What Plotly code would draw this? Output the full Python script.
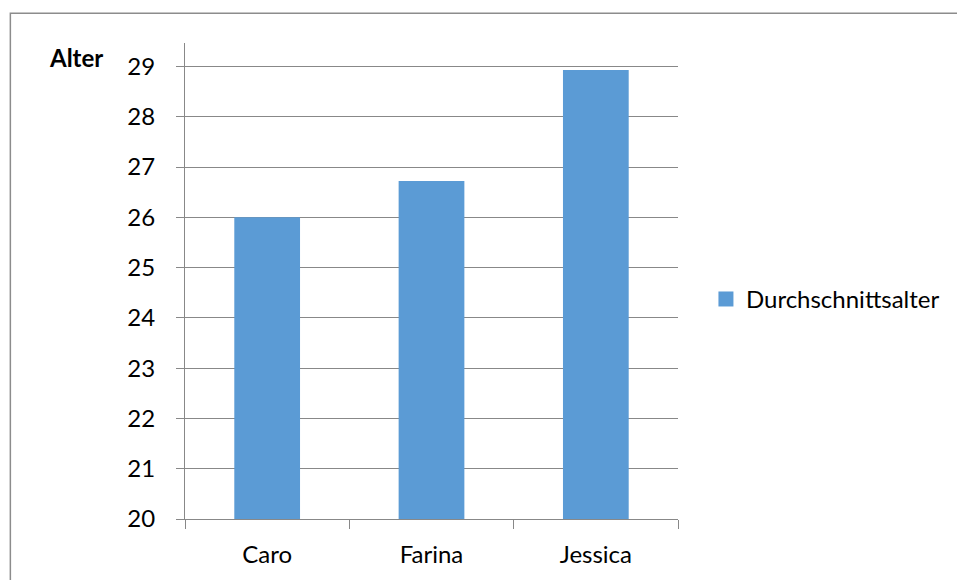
import plotly.graph_objects as go

categories = ["Caro", "Farina", "Jessica"]
values = [26.0, 26.72, 28.93]
series_name = "Durchschnittsalter"
y_ticks = list(range(20, 30))
y_title = "Alter"
y_min = 20

W, H = 957, 580
L, R, T, B = 185, 278, 43, 58
FONT = "Lato, 'Open Sans', sans-serif"
FS = 24
GRID = "#888888"
BAR = "#5B9BD5"
PW, PH = W - L - R, H - T - B

fig = go.Figure()
fig.add_trace(go.Bar(
    x=categories, y=[v - y_min for v in values], base=y_min, name=series_name,
    marker=dict(color=BAR, line=dict(width=0)),
    width=0.4, showlegend=False,
))
# legend entry with a square marker like the original
fig.add_trace(go.Scatter(
    x=[None], y=[None], mode="markers", name=series_name,
    marker=dict(symbol="square", size=15, color=BAR),
    showlegend=True,
))

fig.update_layout(
    width=W, height=H,
    margin=dict(l=L, r=R, t=T, b=B, pad=0),
    paper_bgcolor="white", plot_bgcolor="white",
    font=dict(family=FONT, size=FS, color="#000000"),
    showlegend=True,
    legend=dict(x=(707 - L) / PW, y=(522 - 301) / PH, xanchor="left", yanchor="middle",
                font=dict(size=FS, family=FONT), itemwidth=30,
                bgcolor="rgba(0,0,0,0)"),
)
fig.update_yaxes(
    range=[y_min, y_min + PH / 50.6],
    tickvals=y_ticks, ticktext=[str(t) for t in y_ticks],
    showgrid=True, gridcolor=GRID, gridwidth=1,
    showline=True, linecolor=GRID, linewidth=1,
    ticks="outside", ticklen=8, tickcolor=GRID,
    ticklabelstandoff=16, zeroline=False,
    tickfont=dict(size=FS, family=FONT),
)
fig.update_xaxes(
    showline=True, linecolor=GRID, linewidth=1,
    ticks="outside", ticklen=9, tickcolor=GRID, tickson="boundaries",
    showgrid=False, tickfont=dict(size=FS, family=FONT),
    ticklabelstandoff=14,
)
fig.add_annotation(
    text="<b>" + y_title + "</b>", xref="paper", yref="paper",
    x=(76 - L) / PW, y=(522 - 58) / PH,
    xanchor="center", yanchor="middle", showarrow=False,
    font=dict(size=FS, family=FONT, color="#000000"),
)
# chart border (cropped at right/bottom)
fig.add_shape(
    type="rect", xref="paper", yref="paper",
    x0=(10 - L) / PW, x1=(W + 10 - L) / PW,
    y0=(522 - (H + 10)) / PH, y1=(522 - 13) / PH,
    line=dict(color="#8C8C8C", width=1.5), fillcolor="rgba(0,0,0,0)", layer="below",
)
fig.write_html("out.html")
